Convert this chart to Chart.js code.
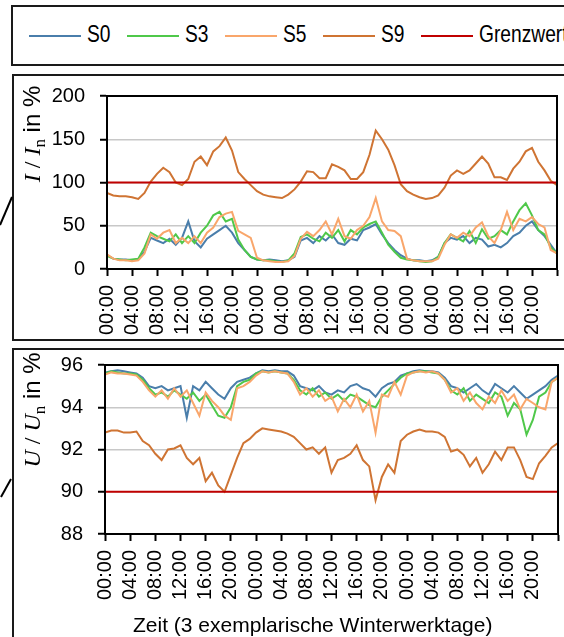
<!DOCTYPE html>
<html lang="de">
<head>
<meta charset="UTF-8">
<title>Strom und Spannung</title>
<script src="https://cdn.jsdelivr.net/npm/chart.js"></script>
<style>
  body { margin: 0; width: 564px; height: 637px; overflow: hidden; background: #fff; position: relative;
         font-family: "Liberation Sans", Arial, sans-serif; color: #000; }
  .box { position: absolute; border: 2px solid #1a1a1a; box-sizing: border-box; }
  canvas { position: absolute; }
  .legend-item { position: absolute; top: 0; height: 59px; }
  .legend-line { position: absolute; top: 28px; width: 52px; height: 2px; }
  .legend-text { position: absolute; top: 13px; font-size: 24px; white-space: nowrap;
                 transform: scaleX(0.8); transform-origin: left center; }
  .ytitle { position: absolute; white-space: nowrap; font-size: 24px; transform: translate(-50%, -50%) rotate(-90deg); }
  .ytitle .s { font-family: "Liberation Serif", "Times New Roman", serif; }
  .ytitle sub { font-family: "Liberation Serif", "Times New Roman", serif; font-size: 17px; }
  .xtitle { position: absolute; left: 133px; top: 613px; font-size: 21px; white-space: nowrap; }
</style>
</head>
<body>
<div class="box" id="legend" style="left:11px; top:5px; width:600px; height:61px;"></div>
<div class="box" style="left:12px; top:74px; width:600px; height:267px;"></div>
<div class="box" style="left:12px; top:348px; width:600px; height:320px;"></div>

<svg width="20" height="637" style="position:absolute; left:0; top:0;">
  <line x1="0" y1="225" x2="12" y2="197" stroke="#000" stroke-width="2"/>
  <line x1="1" y1="497" x2="11" y2="479" stroke="#000" stroke-width="2"/>
</svg>

<canvas id="chartI" width="552" height="264" style="left:12px; top:76px;"></canvas>
<canvas id="chartU" width="552" height="287" style="left:12px; top:350px;"></canvas>

<div class="ytitle" style="left:34px; top:134px;"><i class="s">I</i><span class="s"> / </span><i class="s">I</i><sub>n</sub> in %</div>
<div class="ytitle" style="left:34px; top:410px;"><i class="s">U</i><span class="s"> / </span><i class="s">U</i><sub>n</sub> in %</div>
<div class="xtitle">Zeit (3 exemplarische Winterwerktage)</div>

<script>
// series names and colours
const seriesNames = ['S0', 'S3', 'S5', 'S9', 'Grenzwert'];
const seriesColors = ['#4a7eab', '#4fc84a', '#f9a66b', '#cf7433', '#c00000'];

// x axis tick labels, every 4 hours over 3 days
const hourLabels = ['00:00', '04:00', '08:00', '12:00', '16:00', '20:00',
                    '00:00', '04:00', '08:00', '12:00', '16:00', '20:00',
                    '00:00', '04:00', '08:00', '12:00', '16:00', '20:00', ''];

// current I / In in %, one value per hour (0..72)
const currentS0 = [16,12,11,11,10,11,20,36,33,30,35,28,
                   36,55,32,25,35,40,45,50,42,30,22,14,
                   11,10,11,10,9,10,14,33,36,30,38,33,
                   40,30,28,35,33,45,48,52,40,30,22,16,
                   12,10,10,9,10,14,30,36,34,38,30,36,
                   34,26,28,25,30,38,42,50,55,45,38,28,18];
const currentS3 = [15,12,11,10,11,12,25,42,38,35,32,40,
                   30,38,30,42,50,62,66,55,58,34,22,14,
                   11,10,10,9,8,10,18,37,40,35,32,42,
                   36,45,32,45,40,48,52,55,42,28,20,13,
                   11,10,9,8,9,14,30,40,36,32,44,30,
                   46,35,38,45,40,55,68,76,62,45,40,25,18];
const currentS5 = [17,12,10,10,9,10,18,40,35,42,45,30,
                   36,30,38,30,42,48,60,64,66,44,40,36,
                   13,10,9,8,8,9,15,35,43,38,45,55,
                   40,58,38,35,45,50,60,82,55,45,44,38,
                   12,10,9,9,9,12,28,40,36,42,38,48,
                   54,38,30,45,66,45,58,55,60,52,48,22,18];
const currentS9 = [88,85,84,84,83,81,88,101,110,117,112,100,
                   97,104,124,130,120,136,142,152,137,112,104,97,
                   90,86,84,83,82,86,92,101,113,112,105,105,
                   121,118,114,104,104,112,132,160,150,138,120,98,
                   90,86,83,81,82,85,94,108,114,110,114,122,
                   130,122,106,106,103,116,124,136,140,124,114,102,97];
const currentLimit = 100;

// voltage U / Un in %, one value per hour (0..72)
const voltageS0 = [95.65,95.7,95.75,95.7,95.65,95.6,95.4,95.0,94.9,95.0,94.8,94.9,
                   95.0,93.5,95.0,94.8,95.2,94.9,94.6,94.4,94.9,95.2,95.3,95.4,
                   95.6,95.75,95.7,95.75,95.7,95.7,95.5,95.0,94.9,94.8,95.0,94.7,
                   94.6,94.8,94.7,95.0,95.1,94.9,94.8,94.5,94.9,95.1,95.2,95.5,
                   95.6,95.7,95.75,95.7,95.7,95.65,95.4,95.0,94.9,94.7,94.9,95.1,
                   94.8,94.6,95.1,94.9,94.7,95.0,94.7,94.4,94.6,94.8,95.0,95.3,95.5];
const voltageS3 = [95.6,95.7,95.65,95.6,95.6,95.55,95.3,94.9,94.6,94.7,94.5,94.8,
                   94.6,94.4,94.7,94.3,94.6,94.1,93.6,93.5,94.0,95.0,95.2,95.3,
                   95.6,95.7,95.65,95.7,95.65,95.6,95.3,94.8,94.6,94.9,94.5,94.7,
                   94.4,94.6,94.3,94.6,94.5,94.3,94.1,94.0,94.5,94.8,95.1,95.4,
                   95.6,95.65,95.7,95.7,95.65,95.6,95.3,94.8,94.6,94.9,94.3,94.6,
                   94.4,94.2,94.7,94.5,93.6,94.2,93.9,92.7,93.4,94.5,94.7,95.2,95.4];
const voltageS5 = [95.55,95.65,95.6,95.6,95.55,95.5,95.2,94.8,94.5,94.8,94.4,94.9,
                   94.5,94.8,94.2,93.6,94.7,94.3,94.0,93.6,93.4,94.9,95.0,95.2,
                   95.5,95.7,95.65,95.7,95.65,95.6,95.2,94.6,94.9,94.5,94.8,94.3,
                   94.5,93.8,94.4,94.0,94.6,93.8,94.3,92.8,94.6,94.5,95.2,94.6,
                   95.5,95.65,95.7,95.65,95.7,95.6,95.3,94.7,94.9,94.3,94.7,94.2,
                   93.9,94.5,94.2,94.8,94.3,94.6,93.9,94.4,94.2,94.0,93.9,95.2,95.4];
const voltageS9 = [92.8,92.9,92.9,92.8,92.8,92.85,92.4,92.2,91.8,91.5,92.0,92.05,
                   92.2,91.6,91.3,91.6,90.5,90.9,90.3,90.0,90.8,91.6,92.3,92.5,
                   92.8,93.0,92.95,92.9,92.85,92.75,92.6,92.3,92.0,92.1,91.8,92.1,
                   90.9,91.5,91.6,91.8,92.2,91.5,91.2,89.6,90.7,91.3,90.9,92.4,
                   92.7,92.85,92.95,92.85,92.85,92.8,92.6,91.9,92.0,91.75,91.2,91.6,
                   90.9,91.3,91.9,91.5,92.1,92.1,91.5,90.7,90.6,91.35,91.7,92.1,92.3];
const voltageLimit = 90;

const hours = currentS0.map((_, i) => i);

// legend box
const legendEl = document.getElementById('legend');
seriesNames.forEach((name, i) => {
  const item = document.createElement('div');
  item.className = 'legend-item';
  item.style.left = (16 + 98 * i) + 'px';
  item.innerHTML = '<div class="legend-line" style="left:0; background:' + seriesColors[i] + '"></div>' +
                   '<div class="legend-text" style="left:58px">' + name + '</div>';
  legendEl.appendChild(item);
});

function lineSet(values, colorIdx, order) {
  return {
    label: seriesNames[colorIdx],
    data: values.map((v, i) => ({ x: hours[i], y: v })),
    borderColor: seriesColors[colorIdx],
    borderWidth: 2,
    pointRadius: 0,
    tension: 0,
    order: order
  };
}

function limitSet(value) {
  return {
    label: seriesNames[4],
    data: [{ x: 0, y: value }, { x: 72, y: value }],
    borderColor: seriesColors[4],
    borderWidth: 2,
    pointRadius: 0,
    order: 0
  };
}

// black frame round the plot area
const frame = {
  id: 'frame',
  afterDraw(chart) {
    const a = chart.chartArea, ctx = chart.ctx;
    ctx.save();
    ctx.strokeStyle = '#000';
    ctx.lineWidth = 2;
    ctx.strokeRect(a.left, a.top, a.right - a.left, a.bottom - a.top);
    ctx.restore();
  }
};

const tickFont = { family: '"Liberation Sans", Arial, sans-serif', size: 20 };

function makeChart(id, datasets, yMin, yMax, yStep, pad, yWidth, xHeight) {
  return new Chart(document.getElementById(id), {
    type: 'line',
    data: { datasets: datasets },
    options: {
      responsive: false,
      animation: false,
      layout: { padding: pad },
      plugins: { legend: { display: false }, tooltip: { enabled: false } },
      scales: {
        x: {
          type: 'linear', min: 0, max: 72,
          afterFit(s) { s.height = xHeight; s.paddingLeft = 0; s.paddingRight = 0; },
          ticks: {
            stepSize: 4, autoSkip: false, minRotation: 90, maxRotation: 90,
            padding: 9, color: '#000', font: tickFont,
            callback: (v) => hourLabels[v / 4]
          },
          grid: { drawOnChartArea: false, tickLength: 7, tickWidth: 2, tickColor: '#000' },
          border: { color: '#000', width: 2 }
        },
        y: {
          min: yMin, max: yMax,
          afterFit(s) { s.width = yWidth; s.paddingTop = 0; s.paddingBottom = 0; },
          ticks: { stepSize: yStep, padding: 15, color: '#000', font: tickFont },
          grid: { color: '#c8c8c8', lineWidth: 1.5, tickLength: 7, tickWidth: 2, tickColor: '#000' },
          border: { color: '#000', width: 2 }
        }
      }
    },
    plugins: [frame]
  });
}

makeChart('chartI', [
  lineSet(currentS0, 0, 3),
  lineSet(currentS3, 1, 2),
  lineSet(currentS5, 2, 1),
  lineSet(currentS9, 3, 4),
  limitSet(currentLimit)
], 0, 200, 50, { top: 20, right: 7, bottom: 0, left: 0 }, 95, 71);

makeChart('chartU', [
  lineSet(voltageS0, 0, 3),
  lineSet(voltageS3, 1, 2),
  lineSet(voltageS5, 2, 1),
  lineSet(voltageS9, 3, 4),
  limitSet(voltageLimit)
], 88, 96, 2, { top: 15, right: 6, bottom: 0, left: 0 }, 93, 103);
</script>
</body>
</html>
